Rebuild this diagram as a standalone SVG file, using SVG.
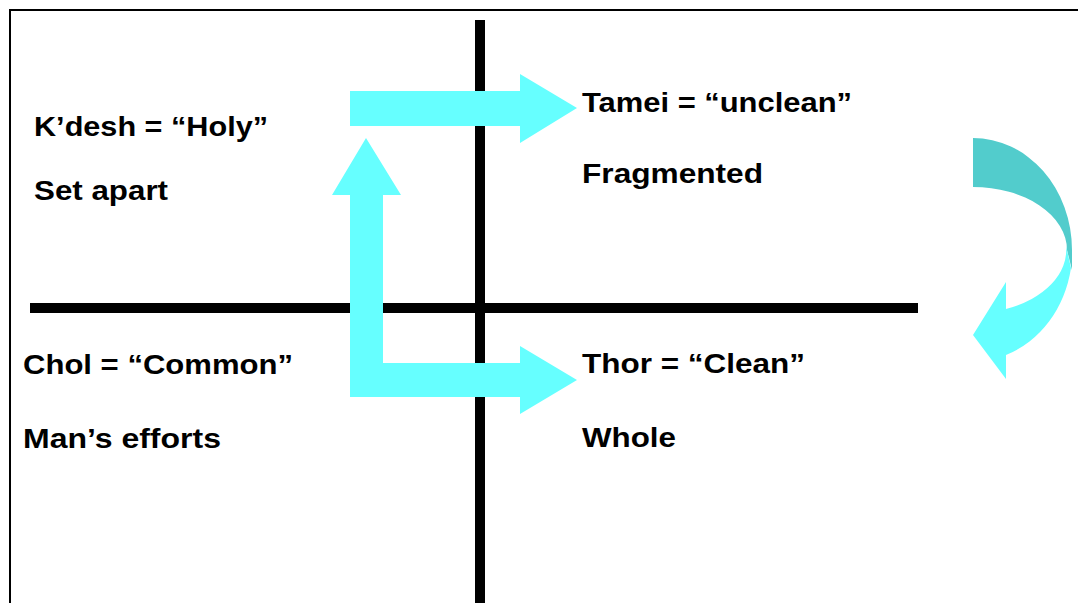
<svg xmlns="http://www.w3.org/2000/svg" width="1078" height="603" viewBox="0 0 1078 603">
<style>
.t{font-family:"Liberation Sans",Arial,sans-serif;font-weight:bold;font-size:28px;fill:#000}
.axis{stroke:#000;stroke-width:10;fill:none}
.cy{fill:#66FFFF}
.cyd{fill:#52CCCC}
</style>
<rect x="0" y="0" width="1078" height="603" fill="#fff"/>
<path d="M10 603 V10 H1078" fill="none" stroke="#000" stroke-width="2"/>
<g id="axes">
<line class="axis" x1="480" y1="20" x2="480" y2="603"/>
<line class="axis" x1="30" y1="308" x2="918" y2="308"/>
</g>
<g id="connectors">
<path class="cy" d="M350 91 H520 V74 L577 108 L520 143 V126 H350 Z"/>
<path class="cy" d="M350 397 V195 H332 L366 138 L401 195 H383 V363 H520 V346 L577 380 L520 414 V397 Z"/>
<path class="cyd" d="M973 138 A99 112 0 0 1 1072 250 L1072 270 L1067 250 A94 63 0 0 0 973 187 Z"/>
<path class="cy" d="M1006 282 L973 335 L1006 379 L1006 355 A99 112 0 0 0 1071 268 L1066 246 A94 63 0 0 1 1006 309 Z"/>
</g>
<g id="holy"><text class="t" x="34" y="136" textLength="234" lengthAdjust="spacingAndGlyphs">K’desh = “Holy”</text><text class="t" x="34" y="200" textLength="134" lengthAdjust="spacingAndGlyphs">Set apart</text></g>
<g id="unclean"><text class="t" x="582" y="112" textLength="270" lengthAdjust="spacingAndGlyphs">Tamei = “unclean”</text><text class="t" x="582" y="183" textLength="181" lengthAdjust="spacingAndGlyphs">Fragmented</text></g>
<g id="common"><text class="t" x="23" y="374" textLength="270" lengthAdjust="spacingAndGlyphs">Chol = “Common”</text><text class="t" x="23" y="448" textLength="198" lengthAdjust="spacingAndGlyphs">Man’s efforts</text></g>
<g id="clean"><text class="t" x="582" y="373" textLength="223" lengthAdjust="spacingAndGlyphs">Thor = “Clean”</text><text class="t" x="582" y="447" textLength="94" lengthAdjust="spacingAndGlyphs">Whole</text></g>
</svg>
